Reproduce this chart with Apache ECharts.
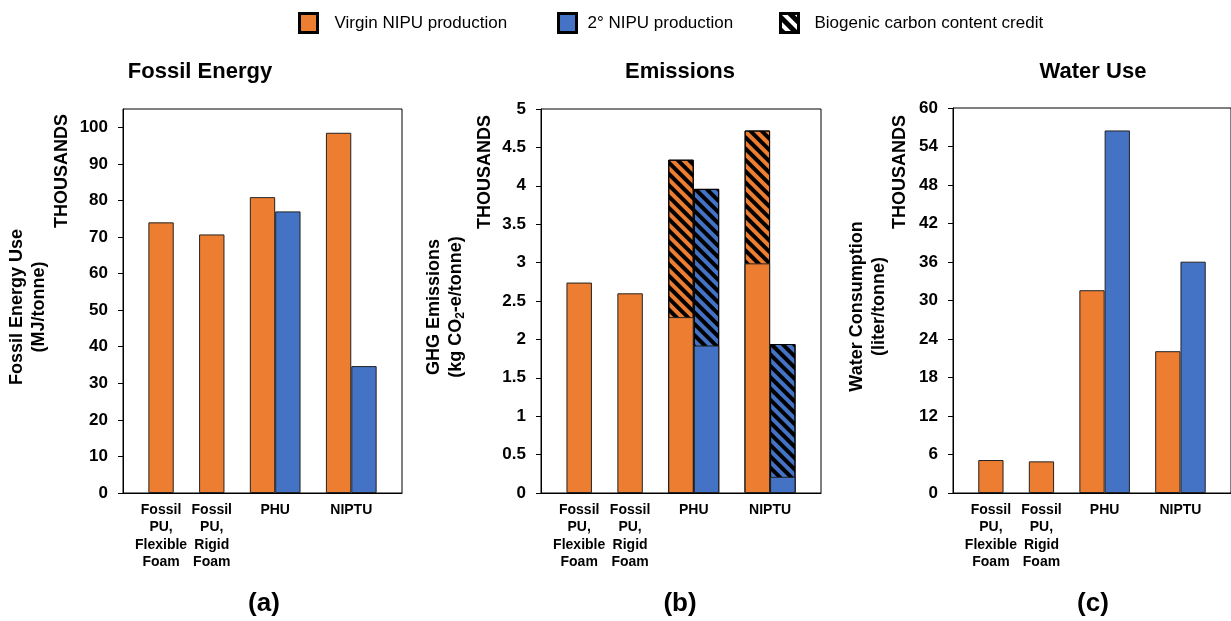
<!DOCTYPE html>
<html>
<head>
<meta charset="utf-8">
<script src="https://cdn.jsdelivr.net/npm/echarts@6/dist/echarts.min.js"></script>
<style>
  html, body { margin: 0; padding: 0; background: #fff; }
  #chart { width: 1231px; height: 621px; }
</style>
</head>
<body>
<div id="chart"></div>
<script>
// ---------------- DATA ----------------
const categories = ['Fossil\nPU,\nFlexible\nFoam', 'Fossil\nPU,\nRigid\nFoam', 'PHU', 'NIPTU'];
const seriesNames = ['Virgin NIPU production', '2\u00B0 NIPU production', 'Biogenic carbon content credit'];

// Fossil energy use (MJ/tonne)
const energyVirgin = [74000, 70700, 80900, 98500];
const energySecondary = [null, null, 77000, 34700];

// GHG emissions (kg CO2-e/tonne): net value plus biogenic credit stacked on top
const ghgVirgin = [2740, 2600, 2290, 2990];
const ghgVirginCredit = [null, null, 2050, 1730];
const ghgSecondary = [null, null, 1920, 210];
const ghgSecondaryCredit = [null, null, 2040, 1730];

// Water consumption (liter/tonne)
const waterVirgin = [5140, 4930, 31600, 22100];
const waterSecondary = [null, null, 56500, 36050];

// Tick labels (thousands)
const energyTicks = [0, 10, 20, 30, 40, 50, 60, 70, 80, 90, 100];
const ghgTicks = [0, 0.5, 1, 1.5, 2, 2.5, 3, 3.5, 4, 4.5, 5];
const waterTicks = [0, 6, 12, 18, 24, 30, 36, 42, 48, 54, 60];

const panelTitles = ['Fossil Energy', 'Emissions', 'Water Use'];
const panelLetters = ['(a)', '(b)', '(c)'];
const unitLabel = 'THOUSANDS';

// ---------------- STYLE ----------------
const FONT = '"Liberation Sans", Arial, Helvetica, sans-serif';
const ORANGE = '#ED7D31';
const BLUE = '#4472C4';
const hatch = {
  symbol: 'rect', symbolSize: 1, color: '#000',
  dashArrayX: [1, 0], dashArrayY: [4, 4], rotation: Math.PI / 4
};

// slot layout: a one-slot gap before every category, one slot per bar
function layoutSlots(secondary) {
  let cursor = 1;
  const vx = [], sx = [], lx = [];
  secondary.forEach((s) => {
    if (s == null) {
      vx.push(cursor + 0.5); sx.push(null); lx.push(cursor + 0.5); cursor += 2;
    } else {
      vx.push(cursor + 0.5); sx.push(cursor + 1.5); lx.push(cursor + 1); cursor += 3;
    }
  });
  return { vx, sx, lx, total: cursor };
}

const grids = [
  { left: 123, top: 109, width: 279, height: 384 },
  { left: 541, top: 109, width: 280, height: 384 },
  { left: 953, top: 108, width: 279, height: 385 }
];

const layouts = [layoutSlots(energySecondary), layoutSlots(ghgSecondary), layoutSlots(waterSecondary)];

function xAxisFor(i) {
  const L = layouts[i];
  return {
    type: 'value', gridIndex: i, min: 0, max: L.total,
    axisLine: { show: true, onZero: false, lineStyle: { color: '#000', width: 1 } },
    axisTick: { show: false },
    splitLine: { show: false },
    axisLabel: {
      customValues: L.lx,
      formatter: (v) => { const k = L.lx.indexOf(v); return k >= 0 ? categories[k] : ''; },
      fontFamily: FONT, fontWeight: 'bold', fontSize: 14, lineHeight: 17.5,
      color: '#000', margin: 8, verticalAlign: 'top'
    }
  };
}

function yAxisFor(i, ticks, max, interval, name, nameGap, rich) {
  const vals = ticks.map(t => t * 1000);
  return {
    type: 'value', gridIndex: i, min: 0, max: max, interval: interval,
    name: name, nameLocation: 'middle', nameRotate: 90, nameGap: nameGap,
    nameTextStyle: Object.assign({
      fontFamily: FONT, fontWeight: 'bold', fontSize: 18, lineHeight: 22, color: '#000',
      padding: [0, 12, 0, 0]
    }, rich ? { rich: rich } : {}),
    axisLine: { show: true, lineStyle: { color: '#000', width: 1 } },
    axisTick: { show: true, inside: false, length: 5, customValues: vals, lineStyle: { color: '#000' } },
    splitLine: { show: false },
    axisLabel: {
      customValues: vals,
      formatter: (v) => String(v / 1000),
      fontFamily: FONT, fontWeight: 'bold', fontSize: 17, color: '#000', margin: 15
    }
  };
}

const ghgRich = {
  a: { fontFamily: FONT, fontWeight: 'bold', fontSize: 18, lineHeight: 22, color: '#000' },
  s: { fontFamily: FONT, fontWeight: 'bold', fontSize: 12, lineHeight: 12, color: '#000', verticalAlign: 'bottom' }
};

const baseBar = (name, xi, color, data, extra) => Object.assign({
  type: 'bar', name: name, xAxisIndex: xi, yAxisIndex: xi,
  barWidth: '100%', barGap: '-100%',
  itemStyle: { color: color, borderColor: '#222', borderWidth: 1 },
  emphasis: { disabled: true },
  data: data
}, extra || {});

const pts = (xs, ys) => xs.map((x, k) => [x, ys[k]]).filter(p => p[0] != null);
// top of the credit segment = net value + credit
const addCredit = (base, credit) => base.map((b, k) => (b == null || credit[k] == null) ? null : b + credit[k]);

const series = [];
// (a) Fossil energy
series.push(baseBar(seriesNames[0], 0, ORANGE, pts(layouts[0].vx, energyVirgin)));
series.push(baseBar(seriesNames[1], 0, BLUE, pts(layouts[0].sx, energySecondary)));
// (b) Emissions: hatched credit segment drawn to the total, net bar drawn over it
series.push(baseBar(seriesNames[2], 1, ORANGE, pts(layouts[1].vx, addCredit(ghgVirgin, ghgVirginCredit)), {
  itemStyle: { color: ORANGE, borderColor: '#000', borderWidth: 1, decal: hatch }
}));
series.push(baseBar(seriesNames[2], 1, BLUE, pts(layouts[1].sx, addCredit(ghgSecondary, ghgSecondaryCredit)), {
  itemStyle: { color: BLUE, borderColor: '#000', borderWidth: 1, decal: hatch }
}));
series.push(baseBar(seriesNames[0], 1, ORANGE, pts(layouts[1].vx, ghgVirgin)));
series.push(baseBar(seriesNames[1], 1, BLUE, pts(layouts[1].sx, ghgSecondary)));
// (c) Water
series.push(baseBar(seriesNames[0], 2, ORANGE, pts(layouts[2].vx, waterVirgin)));
series.push(baseBar(seriesNames[1], 2, BLUE, pts(layouts[2].sx, waterSecondary)));

const legendBase = {
  top: 7, icon: 'rect', itemWidth: 18, itemHeight: 19, selectedMode: false,
  itemStyle: { borderColor: '#000', borderWidth: 3 },
  textStyle: { fontFamily: FONT, fontSize: 17, color: '#000' }
};
const legends = [
  Object.assign({}, legendBase, { left: 293, data: [{ name: seriesNames[0], itemStyle: { color: ORANGE } }],
    textStyle: Object.assign({}, legendBase.textStyle, { padding: [0, 0, 0, 12] }) }),
  Object.assign({}, legendBase, { left: 552, data: [{ name: seriesNames[1], itemStyle: { color: BLUE } }],
    textStyle: Object.assign({}, legendBase.textStyle, { padding: [0, 0, 0, 6] }) }),
  Object.assign({}, legendBase, { left: 774, data: [{ name: seriesNames[2],
    itemStyle: { color: '#fff', decal: { symbol: 'rect', symbolSize: 1, color: '#000', dashArrayX: [1, 0], dashArrayY: [5, 4], rotation: Math.PI / 4 } } }],
    textStyle: Object.assign({}, legendBase.textStyle, { padding: [0, 0, 0, 11] }) })
];

const txt = (text, x, y, size, rot) => ({
  type: 'text', x: x, y: y, rotation: rot || 0,
  style: {
    text: text, fill: '#000',
    font: 'bold ' + size + 'px ' + FONT,
    textAlign: 'center', textVerticalAlign: 'middle', align: 'center', verticalAlign: 'middle'
  }
});

const graphics = [
  txt(panelTitles[0], 200, 72, 22), txt(panelTitles[1], 680, 72, 22), txt(panelTitles[2], 1093, 72, 22),
  txt(panelLetters[0], 264, 604, 26), txt(panelLetters[1], 680, 604, 26), txt(panelLetters[2], 1093, 604, 26),
  txt(unitLabel, 62, 171, 18, Math.PI / 2), txt(unitLabel, 485, 172, 18, Math.PI / 2), txt(unitLabel, 900, 172, 18, Math.PI / 2)
];

const option = {
  animation: false,
  backgroundColor: '#fff',
  textStyle: { fontFamily: FONT },
  legend: legends,
  grid: grids.map(g => Object.assign({ show: true, borderColor: '#000', borderWidth: 1, backgroundColor: 'transparent', containLabel: false }, g)),
  xAxis: [xAxisFor(0), xAxisFor(1), xAxisFor(2)],
  yAxis: [
    yAxisFor(0, energyTicks, 105000, 10000, 'Fossil Energy Use\n(MJ/tonne)', 73),
    yAxisFor(1, ghgTicks, 5000, 500, '{a|GHG Emissions}\n{a|(kg CO}{s|2}{a|-e/tonne)}', 74, ghgRich),
    yAxisFor(2, waterTicks, 60000, 6000, 'Water Consumption\n(liter/tonne)', 63)
  ],
  series: series,
  graphic: graphics
};

const chart = echarts.init(document.getElementById('chart'), null, { renderer: 'canvas' });
chart.setOption(option);
</script>
</body>
</html>
